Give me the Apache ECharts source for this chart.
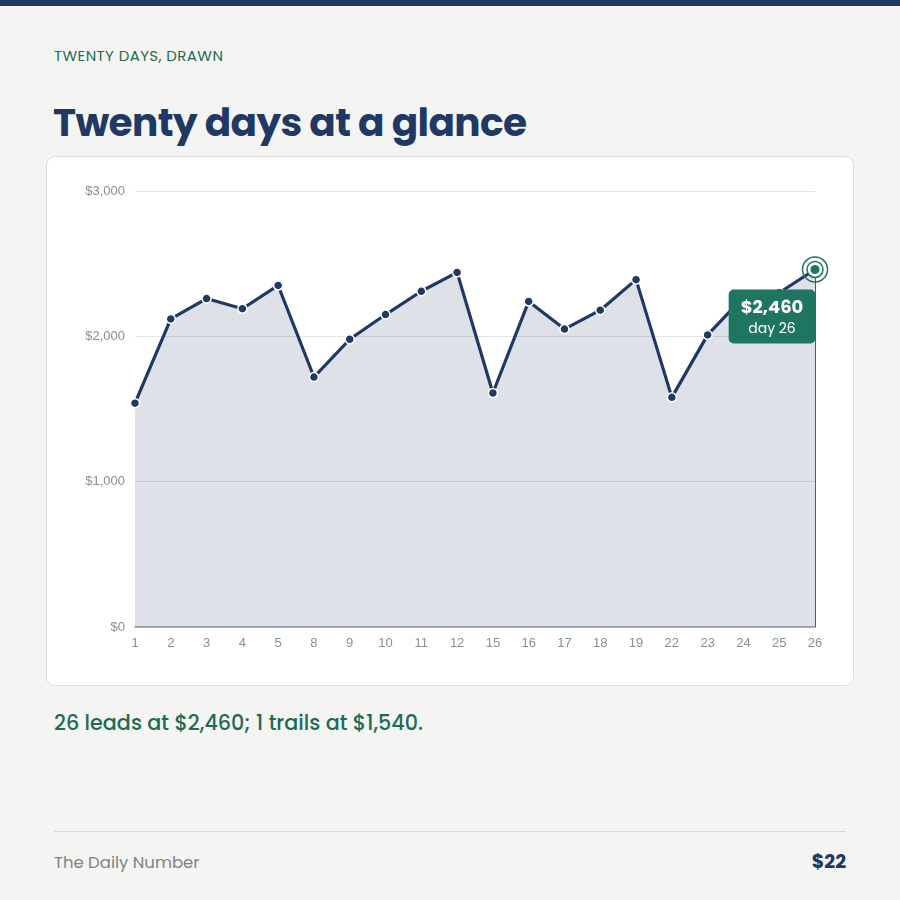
<!DOCTYPE html>
<html>
<head>
<meta charset="utf-8">
<script src="https://cdn.jsdelivr.net/npm/echarts@6/dist/echarts.min.js"></script>
<style>
  html, body { margin: 0; padding: 0; }
  body { width: 900px; height: 900px; background: #f4f5f3; position: relative; overflow: hidden;
         font-family: Poppins, Inter, "Noto Sans", sans-serif; }
  .topbar { position: absolute; left: 0; top: 0; width: 900px; height: 6px; background: #1f3864; }
  .eyebrow { position: absolute; left: 54px; top: 44px; font-size: 15px; color: #1e6b55; letter-spacing: 0.4px; }
  .title { position: absolute; left: 53px; top: 93px; font-size: 39px; font-weight: 700; color: #1f3864; letter-spacing: -0.6px; }
  .card { position: absolute; left: 46px; top: 156px; width: 806px; height: 528px; background: #fff;
          border: 1px solid #dcdcdc; border-radius: 9px; }
  #echart { position: absolute; left: 46px; top: 156px; width: 808px; height: 530px; }
  .note { position: absolute; left: 54px; top: 707px; font-size: 20.7px; font-weight: 500; color: #1e6b55; }
  .rule { position: absolute; left: 54px; top: 831px; width: 792px; height: 1px; background: #d9d9d9; }
  .brand { position: absolute; left: 54px; top: 850px; font-size: 16.5px; color: #7d8287; }
  .price { position: absolute; right: 54px; top: 847px; font-size: 19px; font-weight: 700; color: #1f3864; }
</style>
</head>
<body>
<div class="topbar"></div>
<div class="eyebrow">TWENTY DAYS, DRAWN</div>
<div class="title">Twenty days at a glance</div>
<div class="card"></div>
<div id="echart"></div>
<div class="note">26 leads at $2,460; 1 trails at $1,540.</div>
<div class="rule"></div>
<div class="brand">The Daily Number</div>
<div class="price">$22</div>
<script>
// 数据
const days = ['1', '2', '3', '4', '5', '8', '9', '10', '11', '12', '15', '16', '17', '18', '19', '22', '23', '24', '25', '26']
const values = [1540, 2120, 2260, 2190, 2350, 1720, 1980, 2150, 2310, 2440, 1610, 2240, 2050, 2180, 2390, 1580, 2010, 2270, 2300, 2460]
const yTicks = [0, 1000, 2000, 3000]

const navy = '#1f3864'
const green = '#1e7560'

let echart = echarts.init(document.getElementById('echart'))

const lastDay = days[days.length - 1]
const lastValue = values[values.length - 1]

let option = {
    animation: false,
    grid: { left: 89, right: 39, top: 35, bottom: 59 },
    xAxis: {
        type: 'category',
        data: days,
        boundaryGap: false,
        axisLine: { lineStyle: { color: '#8c9aa6', width: 1.5 } },
        axisTick: { show: false },
        axisLabel: { color: '#8a8f94', fontSize: 13, fontFamily: 'Liberation Sans', margin: 10 }
    },
    yAxis: {
        type: 'value',
        min: yTicks[0],
        max: yTicks[yTicks.length - 1],
        interval: 1000,
        axisLine: { show: false },
        axisTick: { show: false },
        splitLine: { lineStyle: { color: '#e2e4e6' } },
        axisLabel: {
            color: '#8a8f94', fontSize: 13, fontFamily: 'Liberation Sans', margin: 10,
            formatter: v => '$' + v.toLocaleString('en-US')
        }
    },
    series: [
        {
            type: 'line',
            data: values,
            symbol: 'circle',
            symbolSize: 9,
            lineStyle: { color: navy, width: 3.2 },
            itemStyle: { color: navy, borderColor: '#fff', borderWidth: 1.5 },
            areaStyle: { color: 'rgba(31,56,100,0.15)', opacity: 1 },
            z: 3,
            markLine: {
                silent: true,
                symbol: 'none',
                label: { show: false },
                lineStyle: { color: green, width: 1, type: 'solid' },
                data: [[{ coord: [lastDay, lastValue] }, { coord: [lastDay, 0] }]]
            }
        },
        {
            // 最后一天的高亮圆环
            type: 'scatter',
            data: [[lastDay, lastValue]],
            symbol: 'circle',
            symbolSize: 25,
            itemStyle: { color: 'rgba(0,0,0,0)', borderColor: green, borderWidth: 1.5, opacity: 1 },
            zlevel: 1,
            silent: true
        },
        {
            type: 'scatter',
            data: [[lastDay, lastValue]],
            symbol: 'circle',
            symbolSize: 16,
            itemStyle: { color: '#fff', borderColor: green, borderWidth: 1.5, opacity: 1 },
            zlevel: 1,
            z: 3,
            silent: true
        },
        {
            type: 'scatter',
            data: [[lastDay, lastValue]],
            symbol: 'circle',
            symbolSize: 9,
            itemStyle: { color: green, opacity: 1 },
            zlevel: 1,
            z: 4,
            silent: true,
            label: {
                show: true,
                position: 'inside',
                offset: [-43, 47],
                backgroundColor: green,
                borderRadius: 5,
                padding: [7, 12, 5, 12],
                formatter: '{a|$' + lastValue.toLocaleString('en-US') + '}\n{b|day ' + lastDay + '}',
                rich: {
                    a: { color: '#fff', fontSize: 18, fontWeight: 'bold', fontFamily: 'Poppins, Inter, sans-serif', lineHeight: 24, align: 'center' },
                    b: { color: '#fff', fontSize: 14, fontFamily: 'Poppins, Inter, sans-serif', lineHeight: 18, align: 'center' }
                }
            }
        }
    ]
};

echart.setOption(option);
</script>
</body>
</html>
